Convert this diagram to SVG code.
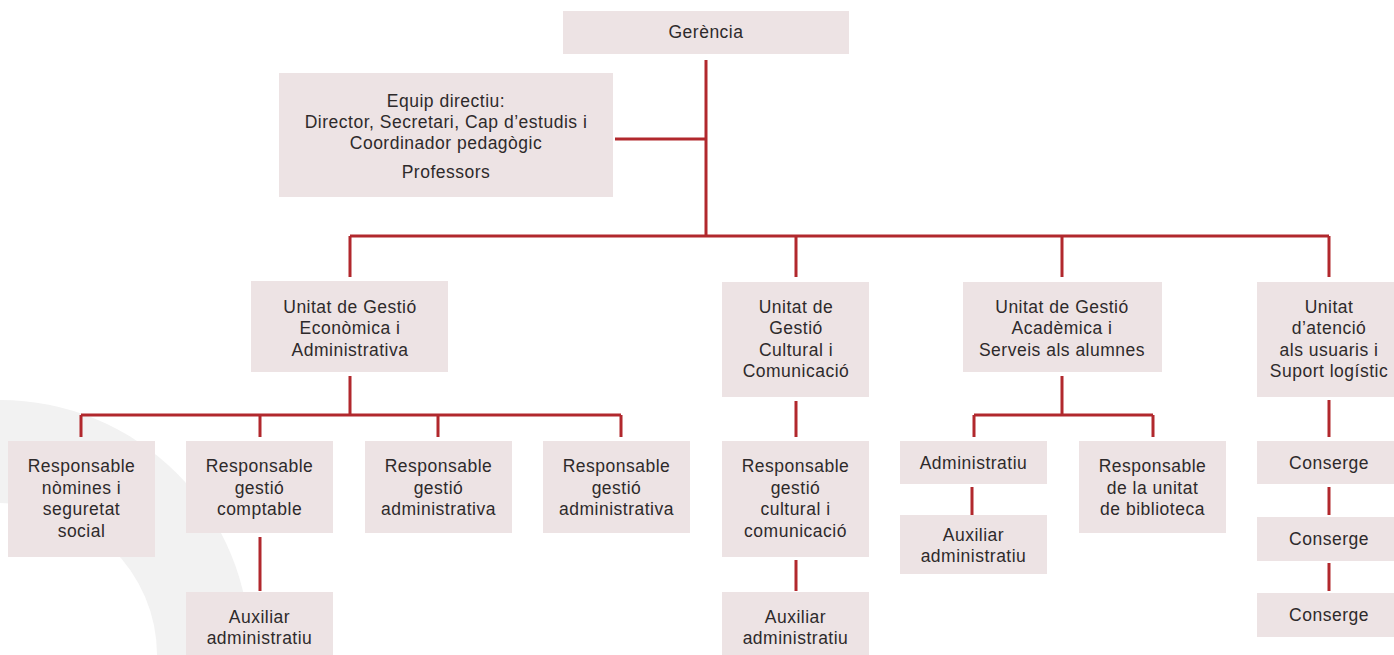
<svg xmlns="http://www.w3.org/2000/svg" width="1394" height="655" viewBox="0 0 1394 655">
<style>
.bx{fill:#ede3e4}
.t{font-family:"Liberation Sans",Arial,sans-serif;font-size:17.5px;letter-spacing:0.5px;fill:#2e2a2b;text-anchor:middle}
.c{stroke:#b1282d;stroke-width:3;fill:none}
</style>
<rect width="1394" height="655" fill="#ffffff"/>
<path d="M0,400 A250,250 0 0 1 250,650 L250,655 L157,655 A157,152 0 0 0 0,503 Z" fill="#f2f2f2"/>
<g id="connectors">
<path class="c" d="M706,60 V236 M615,139 H706 M350,236 H1329 M350,236 V277 M796,236 V277 M1062,236 V277 M1329,236 V277"/>
<path class="c" d="M350,376 V415 M81,415 H621 M81,415 V437 M260,415 V437 M438,415 V437 M621,415 V437 M260,537 V591"/>
<path class="c" d="M796,401 V437 M796,560 V591"/>
<path class="c" d="M1062,376 V415 M974,415 H1153 M974,415 V437 M1153,415 V437 M972,487 V515"/>
<path class="c" d="M1329,400 V437 M1329,487 V515 M1329,563 V591"/>
</g>
<g id="gerencia"><rect class="bx" x="563" y="11" width="286" height="43"/><text class="t" x="706" y="38">Gerència</text></g>
<g id="equip"><rect class="bx" x="279" y="73" width="334" height="124"/>
<text class="t" x="446" y="107">Equip directiu:</text>
<text class="t" x="446" y="128">Director, Secretari, Cap d’estudis i</text>
<text class="t" x="446" y="149">Coordinador pedagògic</text>
<text class="t" x="446" y="178">Professors</text></g>
<g id="ugea"><rect class="bx" x="251" y="281" width="197" height="91"/>
<text class="t" x="350" y="313">Unitat de Gestió</text>
<text class="t" x="350" y="334">Econòmica i</text>
<text class="t" x="350" y="356">Administrativa</text></g>
<g id="ugcc"><rect class="bx" x="722" y="282" width="147" height="115"/>
<text class="t" x="796" y="313">Unitat de</text>
<text class="t" x="796" y="334">Gestió</text>
<text class="t" x="796" y="356">Cultural i</text>
<text class="t" x="796" y="377">Comunicació</text></g>
<g id="ugas"><rect class="bx" x="963" y="282" width="199" height="90"/>
<text class="t" x="1062" y="313">Unitat de Gestió</text>
<text class="t" x="1062" y="334">Acadèmica i</text>
<text class="t" x="1062" y="356">Serveis als alumnes</text></g>
<g id="uaus"><rect class="bx" x="1257" y="282" width="144" height="115"/>
<text class="t" x="1329" y="313">Unitat</text>
<text class="t" x="1329" y="334">d’atenció</text>
<text class="t" x="1329" y="356">als usuaris i</text>
<text class="t" x="1329" y="377">Suport logístic</text></g>
<g id="nomines"><rect class="bx" x="8" y="441" width="147" height="116"/>
<text class="t" x="81.5" y="472">Responsable</text>
<text class="t" x="81.5" y="494">nòmines i</text>
<text class="t" x="81.5" y="515">seguretat</text>
<text class="t" x="81.5" y="537">social</text></g>
<g id="comptable"><rect class="bx" x="186" y="441" width="147" height="92"/>
<text class="t" x="259.5" y="472">Responsable</text>
<text class="t" x="259.5" y="494">gestió</text>
<text class="t" x="259.5" y="515">comptable</text></g>
<g id="admin1"><rect class="bx" x="365" y="441" width="147" height="92"/>
<text class="t" x="438.5" y="472">Responsable</text>
<text class="t" x="438.5" y="494">gestió</text>
<text class="t" x="438.5" y="515">administrativa</text></g>
<g id="admin2"><rect class="bx" x="543" y="441" width="147" height="92"/>
<text class="t" x="616.5" y="472">Responsable</text>
<text class="t" x="616.5" y="494">gestió</text>
<text class="t" x="616.5" y="515">administrativa</text></g>
<g id="aux1"><rect class="bx" x="186" y="592" width="147" height="63"/>
<text class="t" x="259.5" y="623">Auxiliar</text>
<text class="t" x="259.5" y="644">administratiu</text></g>
<g id="cultural"><rect class="bx" x="722" y="441" width="147" height="116"/>
<text class="t" x="795.5" y="472">Responsable</text>
<text class="t" x="795.5" y="494">gestió</text>
<text class="t" x="795.5" y="515">cultural i</text>
<text class="t" x="795.5" y="537">comunicació</text></g>
<g id="aux2"><rect class="bx" x="722" y="592" width="147" height="63"/>
<text class="t" x="795.5" y="623">Auxiliar</text>
<text class="t" x="795.5" y="644">administratiu</text></g>
<g id="administratiu"><rect class="bx" x="900" y="441" width="147" height="43"/>
<text class="t" x="973.5" y="469">Administratiu</text></g>
<g id="aux3"><rect class="bx" x="900" y="515" width="147" height="59"/>
<text class="t" x="973.5" y="541">Auxiliar</text>
<text class="t" x="973.5" y="562">administratiu</text></g>
<g id="biblioteca"><rect class="bx" x="1079" y="441" width="147" height="92"/>
<text class="t" x="1152.5" y="472">Responsable</text>
<text class="t" x="1152.5" y="494">de la unitat</text>
<text class="t" x="1152.5" y="515">de biblioteca</text></g>
<g id="conserge1"><rect class="bx" x="1257" y="441" width="144" height="43"/><text class="t" x="1329" y="469">Conserge</text></g>
<g id="conserge2"><rect class="bx" x="1257" y="517" width="144" height="44"/><text class="t" x="1329" y="545">Conserge</text></g>
<g id="conserge3"><rect class="bx" x="1257" y="593" width="144" height="44"/><text class="t" x="1329" y="621">Conserge</text></g>
</svg>
